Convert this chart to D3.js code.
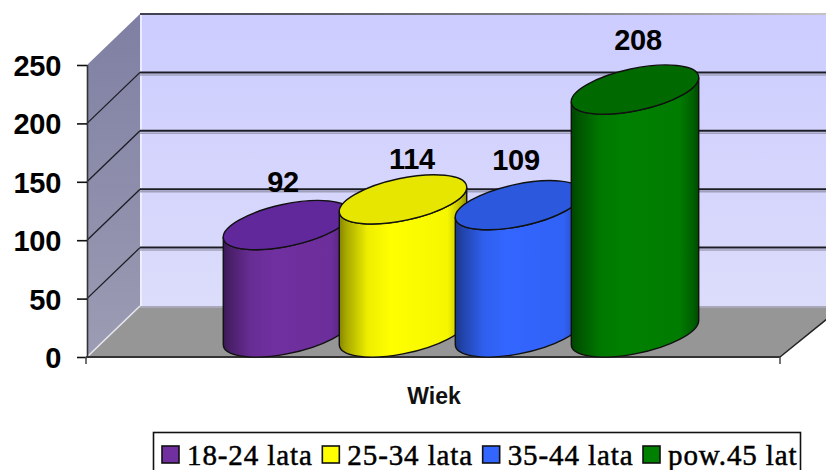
<!DOCTYPE html>
<html><head><meta charset="utf-8">
<script src="https://cdn.jsdelivr.net/npm/d3@7"></script>
<style>html,body{margin:0;padding:0;background:#fff;overflow:hidden}svg{display:block}</style>
</head><body><svg id="c" width="826" height="470"></svg>
<script>
const categories = ["18-24 lata","25-34 lata","35-44 lata","pow.45 lat"];
const values = [92,114,109,208];
const colors = ["#7030a0","#ffff00","#3366ff","#008000"];
const topColors = ["#60289a","#e6e600","#2b58dd","#006a00"];
const yTicks = [0,50,100,150,200,250];
const axisTitle = "Wiek";

const svg = d3.select("#c");
const x0=87, y0=357, yTop=65, dx=53, dy=-51, xEnd=780;
const y = d3.scaleLinear().domain([0,250]).range([y0,yTop]);
const wallRight = xEnd+dx+10;
const defs = svg.append("defs");

function lin(id,x1,y1,x2,y2,stops){
  const g=defs.append("linearGradient").attr("id",id).attr("x1",x1).attr("y1",y1).attr("x2",x2).attr("y2",y2);
  stops.forEach(s=>g.append("stop").attr("offset",s[0]).attr("stop-color",s[1]));
}
lin("wall",0,0,0,1,[[0,"#ccccff"],[1,"#dcdcfb"]]);
lin("side",0,0,0,1,[[0,"#7f7fa3"],[1,"#9c9cb4"]]);
lin("topl",0,0,1,0,[[0,"#404050"],[0.6,"#808088"],[1,"#c8c8c8"]]);

svg.append("rect").attr("x",x0+dx).attr("y",y(250)+dy).attr("width",wallRight-x0-dx).attr("height",y(0)-y(250)).attr("fill","url(#wall)");
svg.append("path").attr("d",d3.line()([[x0,y(250)],[x0+dx,y(250)+dy],[x0+dx,y0+dy],[x0,y0]])).attr("fill","url(#side)");
svg.append("line").attr("x1",x0+dx+1).attr("x2",x0+dx+1).attr("y1",y(250)+dy).attr("y2",y0+dy).attr("stroke","#f4f4ff").attr("stroke-width",1.5);
svg.append("path").attr("d",d3.line()([[x0,y0],[x0+dx,y0+dy],[wallRight,y0+dy],[xEnd,y0]])).attr("fill","#969696");
svg.append("line").attr("x1",x0+dx).attr("x2",wallRight).attr("y1",y0+dy+1).attr("y2",y0+dy+1).attr("stroke","#a8a8b8").attr("stroke-width",2);
svg.append("line").attr("x1",x0).attr("x2",x0+dx).attr("y1",y0).attr("y2",y0+dy).attr("stroke","#e8e8f0").attr("stroke-width",1.5);
svg.append("line").attr("x1",xEnd).attr("x2",wallRight).attr("y1",y0).attr("y2",y0+dy).attr("stroke","#222").attr("stroke-width",1.5);

const gridVals = yTicks.filter(v=>v>0 && v<250);
svg.selectAll(".gs").data(gridVals).join("line")
  .attr("x1",x0+dx).attr("x2",wallRight).attr("y1",d=>y(d)+dy+2.5).attr("y2",d=>y(d)+dy+2.5).attr("stroke","#a0a0bc").attr("stroke-width",1.5);
svg.selectAll(".g").data(gridVals).join("line")
  .attr("x1",x0+dx).attr("x2",wallRight).attr("y1",d=>y(d)+dy).attr("y2",d=>y(d)+dy).attr("stroke","#1c1c24").attr("stroke-width",2);
svg.selectAll(".gd").data(gridVals).join("line")
  .attr("x1",x0).attr("x2",x0+dx).attr("y1",d=>y(d)).attr("y2",d=>y(d)+dy).attr("stroke","#1c1c24").attr("stroke-width",1.3);
svg.append("rect").attr("x",x0+dx).attr("y",y(250)+dy-1).attr("width",wallRight-x0-dx).attr("height",2).attr("fill","url(#topl)");

const yAxis = d3.axisLeft(y).tickValues(yTicks).tickSize(10).tickPadding(16).tickFormat(d3.format("d"));
const gy = svg.append("g").attr("transform",`translate(${x0},0)`).call(yAxis);
gy.selectAll("path").attr("d",`M0.5,${y(250)}V${y0+1}`).attr("stroke","#333").attr("stroke-width",1.6);
gy.selectAll("line").attr("stroke","#111").attr("stroke-width",1.6);
gy.selectAll("text").attr("fill","#000").style("font","bold 29px 'Liberation Sans'").style("letter-spacing","-0.3px").attr("dy","0.36em");
svg.append("line").attr("x1",x0-1).attr("x2",xEnd).attr("y1",y0).attr("y2",y0).attr("stroke","#333").attr("stroke-width",2);
[x0-1,xEnd].forEach(v=>svg.append("line").attr("x1",v).attr("x2",v).attr("y1",y0).attr("y2",y0+7).attr("stroke","#444").attr("stroke-width",1.5));

const band = d3.scalePoint().domain(categories).range([287,635]);
const rx=65, ry=21, phi=-12*Math.PI/180;
const floorCy = y0-24.5;
const hScale = d3.scaleLinear().domain([0,250]).range([0,y0-yTop]);
const t0 = Math.atan(-(ry/rx)*Math.tan(phi));
const ex = rx*Math.cos(t0)*Math.cos(phi)-ry*Math.sin(t0)*Math.sin(phi);
const ey = rx*Math.cos(t0)*Math.sin(phi)+ry*Math.sin(t0)*Math.cos(phi);
const deg = phi*180/Math.PI;
categories.forEach((c,i)=>{
  const cx=band(c), h=hScale(values[i]), cyB=floorCy, cyT=floorCy-h;
  const col=d3.color(colors[i]);
  const id="b"+i;
  lin(id,0,0,1,0,[[0,col.darker(1.8)],[0.05,col.darker(1.2)],[0.22,col.darker(0.2)],[0.4,col],[0.85,col.darker(0.1)],[0.96,col.darker(0.9)],[1,col.darker(1.6)]]);
  const g=svg.append("g");
  g.append("path").attr("d",
    `M${cx-ex},${cyT-ey}L${cx-ex},${cyB-ey}`+
    `A${rx},${ry} ${deg} 0 0 ${cx+ex},${cyB+ey}`+
    `L${cx+ex},${cyT+ey}`+
    `A${rx},${ry} ${deg} 0 1 ${cx-ex},${cyT-ey}Z`)
    .attr("fill",`url(#${id})`).attr("stroke","#111").attr("stroke-width",1.4);
  g.append("ellipse").attr("rx",rx).attr("ry",ry)
    .attr("transform",`translate(${cx},${cyT}) rotate(${deg})`)
    .attr("fill",topColors[i]).attr("stroke","#111").attr("stroke-width",1.4);
});

// data labels, nudged from their cylinder tops as placed in the original
const labelNudge = [[-4,1],[9,4],[-3,-1],[3,-6]];
svg.selectAll(".lab").data(values).join("text")
  .attr("x",(d,i)=>band(categories[i])+labelNudge[i][0])
  .attr("y",(d,i)=>floorCy-hScale(d)-34+labelNudge[i][1])
  .attr("text-anchor","middle").attr("fill","#000")
  .style("font","bold 29px 'Liberation Sans'").style("letter-spacing","-0.3px").text(d=>d);

svg.append("text").attr("x",434).attr("y",404).attr("text-anchor","middle").attr("fill","#111")
  .style("font","bold 23px 'Liberation Sans'").text(axisTitle);

svg.append("rect").attr("x",153.5).attr("y",432.5).attr("width",647).attr("height",50).attr("fill","#fff").attr("stroke","#111").attr("stroke-width",1.6);
defs.append("clipPath").attr("id","lc").append("rect").attr("x",153).attr("y",425).attr("width",651).attr("height",50);
const legX = d3.scalePoint().domain(categories).range([162,643]);
const lg = svg.append("g").attr("clip-path","url(#lc)");
categories.forEach((c,i)=>{
  lg.append("rect").attr("x",legX(c)).attr("y",446).attr("width",17).attr("height",17).attr("fill",colors[i]).attr("stroke","#111").attr("stroke-width",1.6);
  lg.append("text").attr("x",legX(c)+25).attr("y",465).attr("fill","#000").attr("stroke","#000").attr("stroke-width",0.5)
    .style("font","29px 'Liberation Serif'").style("letter-spacing","0.9px").text(c);
});
</script></body></html>
